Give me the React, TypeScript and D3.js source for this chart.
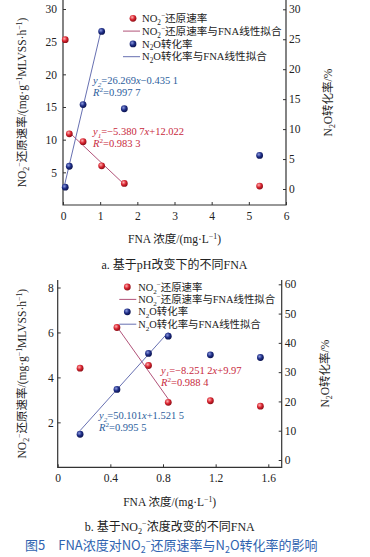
import { useEffect, useRef } from "react";
import * as d3 from "d3";

// panel a: FNA changed through pH
const fnaA = [0.06, 0.17, 0.54, 1.04, 1.65, 5.29];
const no2RateA = [25.3, 10.9, 9.7, 6.0, 3.3, 2.9];
const n2oConvA = [0.3, 3.8, 14.1, 26.3, 13.4, 5.6];
const fitNo2A = { k: -5.3807, b: 12.022, from: 0.17, to: 1.65 };
const fitN2oA = { k: 26.269, b: -0.4351, from: 0.03, to: 1.04 };
const xTicksA = [0, 1, 2, 3, 4, 5, 6];
const leftTicksA = [5, 10, 15, 20, 25, 30];
const rightTicksA = [0, 5, 10, 15, 20, 25, 30];

// panel b: FNA changed through NO2- concentration
const fnaB = [0.17, 0.45, 0.69, 0.84, 1.16, 1.54];
const no2RateB = [4.41, 6.22, 4.53, 2.89, 2.96, 2.72];
const n2oConvB = [8.8, 24.1, 36.4, 42.3, 35.9, 35.0];
const fitNo2B = { k: -8.2512, b: 9.97, from: 0.45, to: 0.84 };
const fitN2oB = { k: 50.101, b: 1.5215, from: 0.17, to: 0.84 };
const xTicksB = [0, 0.4, 0.8, 1.2, 1.6];
const leftTicksB = [2, 4, 6, 8];
const rightTicksB = [0, 10, 20, 30, 40, 50, 60];

const SERIF = "'Liberation Serif', 'Times New Roman', 'Noto Sans CJK SC', serif";
const RED = "#d8232f";
const NAVY = "#1e2d86";
const RED_TXT = "#c8283c";
const BLUE_TXT = "#2b5d9c";
const RED_LINE = "#a8406a";
const BLUE_LINE = "#5660a8";
const AXIS = "#333";

type Part = [string, string?];

// appends tspans with sub/sup/italic pieces
function rich(text: any, parts: Part[], fs: number) {
  let shift = 0;
  parts.forEach(([s, m = ""]) => {
    const target = m.includes("sub") ? 0.28 * fs : m.includes("sup") ? -0.38 * fs : 0;
    const ts = text.append("tspan").text(s).attr("dy", target - shift);
    if (target !== 0) ts.attr("font-size", fs * 0.68);
    if (m.includes("i")) ts.attr("font-style", "italic");
    shift = target;
  });
}

export default function App() {
  const ref = useRef<SVGSVGElement>(null);

  useEffect(() => {
    const svg = d3.select(ref.current);
    svg.selectAll("*").remove();

    const defs = svg.append("defs");
    [["gRed", "#ffb0b0", RED, "#8e0f17"], ["gBlue", "#8d9be0", NAVY, "#0c1450"]].forEach(([id, a, b, c]) => {
      const g = defs.append("radialGradient").attr("id", id).attr("cx", "38%").attr("cy", "35%").attr("r", "65%");
      g.append("stop").attr("offset", "0%").attr("stop-color", a);
      g.append("stop").attr("offset", "55%").attr("stop-color", b);
      g.append("stop").attr("offset", "100%").attr("stop-color", c);
    });

    function panel(o: any) {
      const { x, yL, yR, top, bottom, left, right } = o;
      const g = svg.append("g").attr("font-family", SERIF);

      // frame: left, bottom, right
      g.append("path")
        .attr("d", `M${left},${top}V${bottom}H${right}V${top}`)
        .attr("fill", "none").attr("stroke", AXIS).attr("stroke-width", 1.2);

      const fs = 11.5;
      g.append("g").attr("transform", `translate(0,${bottom})`)
        .call(d3.axisBottom(x).tickValues(o.xTicks).tickSize(-3).tickPadding(7).tickFormat(o.xFmt))
        .call((a: any) => a.select(".domain").remove());
      g.append("g").attr("transform", `translate(${left},0)`)
        .call(d3.axisLeft(yL).tickValues(o.lTicks).tickSize(-3).tickPadding(o.lPad))
        .call((a: any) => a.select(".domain").remove());
      g.append("g").attr("transform", `translate(${right},0)`)
        .call(d3.axisRight(yR).tickValues(o.rTicks).tickSize(-3).tickPadding(3))
        .call((a: any) => a.select(".domain").remove());
      g.selectAll(".tick text").attr("font-size", fs).attr("font-family", SERIF).attr("fill", "#222");
      g.selectAll(".tick line").attr("stroke", AXIS);

      // fit lines
      const fit = (f: any, yS: any, col: string) =>
        g.append("line")
          .attr("x1", x(f.from)).attr("y1", yS(f.k * f.from + f.b))
          .attr("x2", x(f.to)).attr("y2", yS(f.k * f.to + f.b))
          .attr("stroke", col).attr("stroke-width", 0.9);
      fit(o.fitNo2, yL, RED_LINE);
      fit(o.fitN2o, yR, BLUE_LINE);

      // points
      g.append("g").selectAll("circle").data(o.xs).join("circle")
        .attr("cx", (d: number) => x(d)).attr("cy", (_: any, i: number) => yL(o.no2[i]))
        .attr("r", 3.4).attr("fill", "url(#gRed)");
      g.append("g").selectAll("circle").data(o.xs).join("circle")
        .attr("cx", (d: number) => x(d)).attr("cy", (_: any, i: number) => yR(o.n2o[i]))
        .attr("r", 3.4).attr("fill", "url(#gBlue)");

      // equations
      const eq = (px: number, py: number, col: string, parts: Part[]) => {
        const t = g.append("text").attr("x", px).attr("y", py).attr("font-size", 10.5).attr("fill", col);
        rich(t, parts, 10.5);
      };
      o.eqs.forEach((e: any) => eq(e[0], e[1], e[2], e[3]));

      // legend
      const lfs = o.legFs;
      const lg = g.append("g").attr("font-size", lfs).attr("fill", "#222");
      const rows: [string, string, Part[]][] = [
        ["dot", "gRed", [["NO"], ["2", "sub"], ["−", "sup"], ["还原速率"]]],
        ["line", RED_LINE, [["NO"], ["2", "sub"], ["−", "sup"], ["还原速率与FNA线性拟合"]]],
        ["dot", "gBlue", [["N"], ["2", "sub"], ["O转化率"]]],
        ["line", BLUE_LINE, [["N"], ["2", "sub"], ["O转化率与FNA线性拟合"]]],
      ];
      rows.forEach(([kind, c, parts], i) => {
        const ry = o.legY + i * o.legStep;
        if (kind === "dot") lg.append("circle").attr("cx", o.legX - o.dotGap).attr("cy", ry).attr("r", 3.4).attr("fill", `url(#${c})`);
        else lg.append("line").attr("x1", o.legX - 19).attr("x2", o.legX - 2).attr("y1", ry).attr("y2", ry).attr("stroke", c).attr("stroke-width", 0.9);
        const t = lg.append("text").attr("x", o.legX).attr("y", ry + 3.6);
        rich(t, parts, lfs);
      });

      // axis titles
      const xt = g.append("text").attr("x", (left + right) / 2).attr("y", o.xTitleY)
        .attr("text-anchor", "middle").attr("font-size", 11.5).attr("fill", "#222");
      rich(xt, [["FNA 浓度/(mg·L"], ["−1", "sup"], [")"]], 11.5);

      const cy = (top + bottom) / 2;
      const lt = g.append("text").attr("transform", `translate(${o.lTitleX},${cy}) rotate(-90)`)
        .attr("text-anchor", "middle").attr("font-size", 11.5).attr("fill", "#222");
      rich(lt, [["NO"], ["2", "sub"], ["−", "sup"], ["还原速率/(mg·g"], ["−1", "sup"], ["MLVSS·h"], ["−1", "sup"], [")"]], 11.5);

      const rt = g.append("text").attr("transform", `translate(${o.rTitleX},${cy}) rotate(-90)`)
        .attr("text-anchor", "middle").attr("font-size", 11.5).attr("fill", "#222");
      rich(rt, [["N"], ["2", "sub"], ["O转化率/%"]], 11.5);

      const cap = g.append("text").attr("x", (left + right) / 2).attr("y", o.capY)
        .attr("text-anchor", "middle").attr("font-size", 12).attr("fill", "#222");
      rich(cap, o.cap, 12);
    }

    panel({
      x: d3.scaleLinear([0, 6], [63, 286]),
      yL: d3.scaleLinear([0, 30], [205, 9]),
      yR: d3.scaleLinear([0, 30], [189, 9.3]),
      top: 0, bottom: 205, left: 63, right: 286,
      xTicks: xTicksA, lTicks: leftTicksA, rTicks: rightTicksA, lPad: 6,
      xFmt: d3.format("d"),
      xs: fnaA, no2: no2RateA, n2o: n2oConvA, fitNo2: fitNo2A, fitN2o: fitN2oA,
      eqs: [
        [93, 84, BLUE_TXT, [["y", "i"], ["2", "isub"], ["=26.269"], ["x", "i"], ["−0.435 1"]]],
        [93, 96, BLUE_TXT, [["R", "i"], ["2", "sup"], ["=0.997 7"]]],
        [93, 135, RED_TXT, [["y", "i"], ["1", "isub"], ["=−5.380 7"], ["x", "i"], ["+12.022"]]],
        [93, 147, RED_TXT, [["R", "i"], ["2", "sup"], ["=0.983 3"]]],
      ],
      legX: 142, legY: 18.3, legStep: 12.8, dotGap: 9, legFs: 10.6,
      xTitleY: 243, lTitleX: 26, rTitleX: 332, capY: 269,
      cap: [["a. 基于pH改变下的不同FNA"]],
    });

    panel({
      x: d3.scaleLinear([0, 1.6], [57.7, 268.3]),
      yL: d3.scaleLinear([0, 8], [467.3, 287.5]),
      yR: d3.scaleLinear([0, 60], [460, 284.3]),
      top: 280, bottom: 467.3, left: 57.7, right: 281.7,
      xTicks: xTicksB, lTicks: leftTicksB, rTicks: rightTicksB, lPad: 4,
      xFmt: (d: number) => (d === 0 ? "0" : d3.format(".1f")(d)),
      xs: fnaB, no2: no2RateB, n2o: n2oConvB, fitNo2: fitNo2B, fitN2o: fitN2oB,
      eqs: [
        [161, 373.5, RED_TXT, [["y", "i"], ["1", "isub"], ["=−8.251 2"], ["x", "i"], ["+9.97"]]],
        [161, 386, RED_TXT, [["R", "i"], ["2", "sup"], ["=0.988 4"]]],
        [99, 419, BLUE_TXT, [["y", "i"], ["2", "isub"], ["=50.101"], ["x", "i"], ["+1.521 5"]]],
        [99, 431, BLUE_TXT, [["R", "i"], ["2", "sup"], ["=0.995 5"]]],
      ],
      legX: 138.3, legY: 287, legStep: 12.4, dotGap: 11, legFs: 10.4,
      xTitleY: 506, lTitleX: 26, rTitleX: 329, capY: 531,
      cap: [["b. 基于NO"], ["2", "sub"], ["−", "sup"], ["浓度改变的不同FNA"]],
    });

    const fc = svg.append("text").attr("x", 25).attr("y", 549.5)
      .attr("font-family", "'Noto Sans CJK SC', 'Noto Sans', sans-serif")
      .attr("font-size", 13).attr("fill", "#2f63b0");
    rich(fc, [["图5　FNA浓度对NO"], ["2", "sub"], ["−", "sup"], ["还原速率与N"], ["2", "sub"], ["O转化率的影响"]], 13);
  }, []);

  return (
    <svg
      ref={ref}
      width={370}
      height={557}
      viewBox="0 0 370 557"
      style={{ position: "absolute", left: 0, top: 0, background: "#fff" }}
    />
  );
}
